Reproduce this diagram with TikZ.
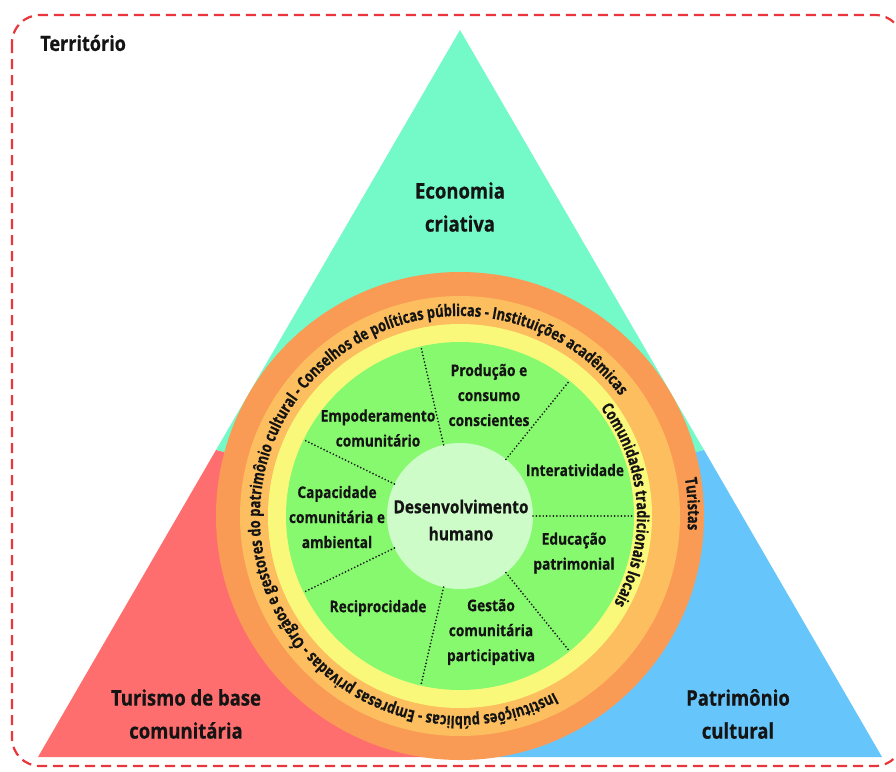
\documentclass[tikz,border=0pt]{standalone}
\usepackage{fontspec}
\setmainfont{Open Sans}[FakeStretch=0.86,FakeBold=0.5]
\newfontfamily\ringfont{Open Sans}[FakeStretch=0.78,FakeBold=0.5]
\usetikzlibrary{decorations.text,calc}
\definecolor{teal1}{HTML}{74F9C9}
\definecolor{pink1}{HTML}{FF6E6E}
\definecolor{blue1}{HTML}{66C5FA}
\definecolor{orangeD}{HTML}{F99A55}
\definecolor{orangeL}{HTML}{FCBE5E}
\definecolor{yellow1}{HTML}{FAF87A}
\definecolor{green1}{HTML}{87F96F}
\definecolor{pale1}{HTML}{CDFCC8}
\definecolor{ink}{HTML}{141414}
\definecolor{terr}{HTML}{E8363C}
\begin{document}
\begin{tikzpicture}[x=1pt,y=1pt,
  disc/.style={circle,inner sep=0pt,outer sep=0pt,draw=none},
  seglabel/.style={font=\fontsize{16}{25}\selectfont\bfseries,align=center,text=ink,inner sep=0pt},
  hublabel/.style={font=\fontsize{18}{27}\selectfont\bfseries,align=center,text=ink,inner sep=0pt},
  biglabel/.style={font=\fontsize{21.5}{33}\selectfont\bfseries,align=center,text=ink,inner sep=0pt},
  divider/.style={draw=ink,line width=1.9pt,line cap=round,dash pattern=on 0pt off 3.4pt},
  ringtext/.style={decorate,decoration={text along path,text align=center}},
  territory/.style={draw=terr,line width=2.2pt,dash pattern=on 10pt off 6pt,rounded corners=28pt}]
\clip (0,-771) rectangle (896,0);
\fill[white] (0,-771) rectangle (896,0);
% frame
\draw[territory] (12,-15) rectangle (903,-766);
\node[anchor=west,font=\fontsize{21}{24}\selectfont\bfseries,text=ink,inner sep=0pt] (terrlabel) at (40,-43) {Território};
% triangle
\coordinate (C) at (460,-516);
\coordinate (A) at (460,-30);
\coordinate (L) at (38,-757);
\coordinate (R) at (882,-757);
\coordinate (ML) at (216,-450);
\coordinate (MR) at (704,-450);
\coordinate (MB) at (460,-757);
\fill[teal1] (A) -- (MR) -- (C) -- (ML) -- cycle;
\fill[pink1] (ML) -- (C) -- (MB) -- (L) -- cycle;
\fill[blue1] (MR) -- (R) -- (MB) -- (C) -- cycle;
% rings
\node[disc,fill=orangeD,minimum size=488pt] (ringD) at (C) {};
\node[disc,fill=orangeL,minimum size=440pt] (ringL) at (C) {};
\node[disc,fill=yellow1,minimum size=384pt] (ringY) at (C) {};
\node[disc,fill=green1,minimum size=348pt] (wheel) at (C) {};
\node[disc,fill=pale1,minimum size=146pt] (hub) at (C) {};
\node[hublabel] (hubtext) at (461,-520) {Desenvolvimento\\humano};
% dividers
\foreach \a in {0,51,103,154,206,257,309}
  \draw[divider] (hub.\a) -- (wheel.\a);
% segment labels
\node[seglabel] (s1) at (489,-395) {Produção e\\consumo\\conscientes};
\node[seglabel] (s2) at (378,-428) {Empoderamento\\comunitário};
\node[seglabel] (s3) at (575,-470) {Interatividade};
\node[seglabel] (s4) at (337,-517) {Capacidade\\comunitária e\\ambiental};
\node[seglabel] (s5) at (574,-553) {Educação\\patrimonial};
\node[seglabel] (s6) at (378,-608) {Reciprocidade};
\node[seglabel] (s7) at (491,-632) {Gestão\\comunitária\\participativa};
% big labels
\node[biglabel] (eco) at (460,-207) {Economia\\criativa};
\node[biglabel] (tur) at (186,-714) {Turismo de base\\comunitária};
\node[biglabel] (pat) at (738,-714) {Patrimônio\\cultural};
% ring texts
\path[ringtext,decoration={text={|\color{ink}\ringfont\fontsize{16.5}{18}\selectfont\bfseries|Instituições públicas - Empresas privadas - Órgãos e gestores do patrimônio cultural - Conselhos de políticas públicas - Instituições acadêmicas}}]
  (C) ++(-60:200) arc[start angle=-60, end angle=-325, radius=200];
\path[ringtext,decoration={text={|\color{ink}\ringfont\fontsize{16.5}{18}\selectfont\bfseries|Comunidades tradicionais locais}}]
  (C) ++(42:177) arc[start angle=42, end angle=-34, radius=177];
\path[ringtext,decoration={text={|\color{ink}\ringfont\fontsize{16.5}{18}\selectfont\bfseries|Turistas}}]
  (C) ++(20:228) arc[start angle=20, end angle=-14, radius=228];
\end{tikzpicture}
\end{document}
